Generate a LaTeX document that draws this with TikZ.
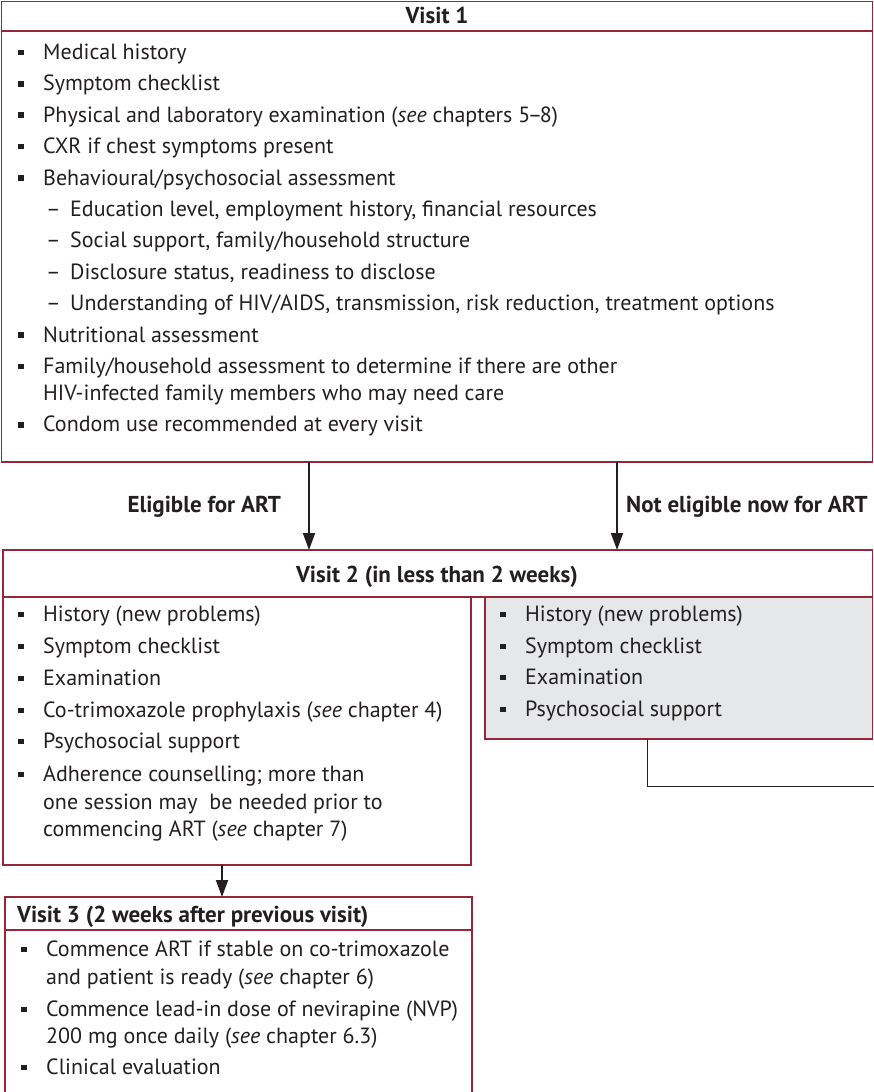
\documentclass[tikz,border=0pt]{standalone}
\usepackage{fontspec}
\setmainfont{PT Sans}
\usetikzlibrary{arrows.meta}
\definecolor{frame}{RGB}{150,38,58}
\definecolor{ink}{RGB}{35,31,32}
\definecolor{panel}{RGB}{230,231,232}
% list markers: a small filled square, and an en dash for sub-items
\newcommand\sqbul{\makebox[25pt][l]{\rule[0.2em]{5.5pt}{5.5pt}}}
\newcommand\dashbul{\makebox[24pt][l]{--}}
% tight en dash for number ranges
\newcommand\rng{\kern-2.5pt--\kern-2.5pt}

\begin{document}
\begin{tikzpicture}[x=1pt,y=-1pt,
  box/.style={draw=frame,line width=1.2pt,inner sep=0pt,outer sep=0pt,anchor=north west},
  txt/.style={anchor=base west,inner sep=0pt,text=ink,font=\fontsize{22}{26}\selectfont},
  head/.style={inner sep=0pt,text=ink,font=\fontsize{23}{27}\selectfont\bfseries},
  arr/.style={draw=ink,line width=1.8pt,-{Triangle[length=17pt,width=12pt]}},
  link/.style={draw=ink,line width=1pt}]
\useasboundingbox (0,0) rectangle (874,1092);

% ---------- Visit 1 ----------
\node[box,minimum width=871pt,minimum height=460.5pt] (v1) at (1.5,1.5) {};
\coordinate (v1sep) at (0,31);
\draw[frame,line width=1.2pt] (v1.west |- v1sep) -- (v1.east |- v1sep);
\node[head,anchor=base] (v1h) at (437,23.5) {Visit 1};

\node[txt] (a1) at (18,59.5) {\sqbul Medical history};
\node[txt] (a2) at (18,90.9) {\sqbul Symptom checklist};
\node[txt] (a3) at (18,122.3) {\sqbul Physical and laboratory examination (\textit{see} chapters 5\rng 8)};
\node[txt] (a4) at (18,153.7) {\sqbul CXR if chest symptoms present};
\node[txt] (a5) at (18,185.1) {\sqbul Behavioural/psychosocial assessment};
\node[txt] (a6) at (46,216.5) {\dashbul Education level, employment history, financial resources};
\node[txt] (a7) at (46,247.9) {\dashbul Social support, family/household structure};
\node[txt] (a8) at (46,279.3) {\dashbul Disclosure status, readiness to disclose};
\node[txt] (a9) at (46,310.7) {\dashbul Understanding of HIV/AIDS, transmission, risk reduction, treatment options};
\node[txt] (a10) at (18,342.1) {\sqbul Nutritional assessment};
\node[txt] (a11) at (18,373.5) {\sqbul Family/household assessment to determine if there are other};
\node[txt] (a11b) at (43,400.5) {HIV-infected family members who may need care};
\node[txt] (a12) at (18,431.9) {\sqbul Condom use recommended at every visit};

% ---------- Visit 2 ----------
\node[box,minimum width=869.5pt,minimum height=47pt] (v2h) at (3,550) {};
\node[head,anchor=base] (v2t) at (437,582) {Visit 2 (in less than 2 weeks)};
\node[box,minimum width=468pt,minimum height=268pt] (v2l) at (3,597) {};
\node[box,fill=panel,minimum width=387.5pt,minimum height=142pt] (v2r) at (485,597) {};

\node[txt] (b1) at (18,621.5) {\sqbul History (new problems)};
\node[txt] (b2) at (18,653.5) {\sqbul Symptom checklist};
\node[txt] (b3) at (18,685.5) {\sqbul Examination};
\node[txt] (b4) at (18,717.5) {\sqbul Co-trimoxazole prophylaxis (\textit{see} chapter 4)};
\node[txt] (b5) at (18,748.5) {\sqbul Psychosocial support};
\node[txt] (b6) at (18,781.5) {\sqbul Adherence counselling; more than};
\node[txt] (b6b) at (43,809.5) {one session may\ \ be needed prior to};
\node[txt] (b6c) at (43,836.5) {commencing ART (\textit{see} chapter 7)};

\node[txt] (c1) at (500,621.5) {\sqbul History (new problems)};
\node[txt] (c2) at (500,653.5) {\sqbul Symptom checklist};
\node[txt] (c3) at (500,684.5) {\sqbul Examination};
\node[txt] (c4) at (500,716.5) {\sqbul Psychosocial support};

% ---------- Visit 3 ----------
\node[box,minimum width=467pt,minimum height=33pt] (v3h) at (5,897) {};
\node[head,anchor=base west] (v3t) at (17,922) {Visit 3 (2 weeks after previous visit)};
\node[box,minimum width=467pt,minimum height=180pt] (v3b) at (5,930) {};

\node[txt] (d1) at (21,956.5) {\sqbul Commence ART if stable on co-trimoxazole};
\node[txt] (d1b) at (46,984.5) {and patient is ready (\textit{see} chapter 6)};
\node[txt] (d2) at (21,1016.5) {\sqbul Commence lead-in dose of nevirapine (NVP)};
\node[txt] (d2b) at (46,1043.5) {200 mg once daily (\textit{see} chapter 6.3)};
\node[txt] (d3) at (21,1074.5) {\sqbul Clinical evaluation};

% ---------- connectors ----------
\coordinate (xl) at (309,0);
\coordinate (xr) at (617,0);
\coordinate (xd) at (222,0);
\coordinate (xg) at (647,0);
\coordinate (loopend) at (874,786);

\draw[arr] (v1.south -| xl) -- (v2h.north -| xl);
\draw[arr] (v1.south -| xr) -- (v2h.north -| xr);
\draw[arr] (v2l.south -| xd) -- (v3h.north -| xd);
\draw[link] (v2r.south -| xg) |- (loopend);

\node[head,anchor=base east] (yes) at (281,512) {Eligible for ART};
\node[head,anchor=base west] (no) at (626,512) {Not eligible now for ART};
\end{tikzpicture}
\end{document}
